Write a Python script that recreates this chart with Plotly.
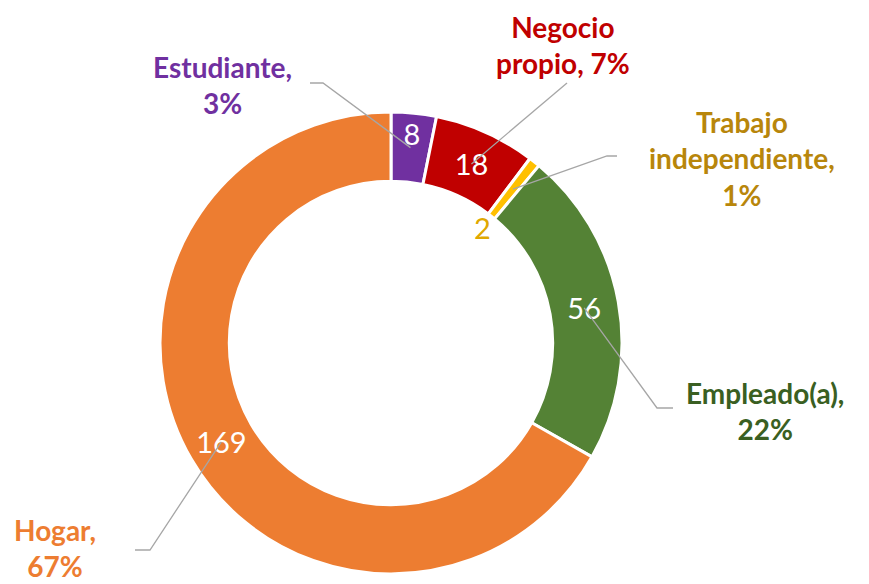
import math
import plotly.graph_objects as go

categories = ["Estudiante", "Negocio propio", "Trabajo independiente", "Empleado(a)", "Hogar"]
values = [8, 18, 2, 56, 169]
percent_labels = ["3%", "7%", "1%", "22%", "67%"]
slice_colors = ["#7030A0", "#C00000", "#FFC000", "#548235", "#ED7D31"]
label_colors = ["#7030A0", "#C00000", "#B8860B", "#3A5F22", "#ED7D31"]

OFF = 8  # page body margin
W, H = 869 - OFF, 584 - OFF
CX, CY, R_OUT = 391 - OFF, 343 - OFF, 231
HOLE = 0.70
R_MID = R_OUT * (1 + HOLE) / 2


def px(x, y):
    return x / W, 1 - y / H


def pg(x, y):
    # page pixel -> figure pixel
    return x - OFF, y - OFF


fig = go.Figure()
fig.add_trace(go.Pie(
    values=values,
    labels=categories,
    sort=False,
    direction="clockwise",
    rotation=0,
    hole=HOLE,
    marker=dict(colors=slice_colors, line=dict(color="white", width=3)),
    texttemplate="%{value}",
    textposition=["inside", "inside", "none", "inside", "inside"],
    insidetextorientation="horizontal",
    insidetextfont=dict(color="white", size=29, family="Lato"),
    showlegend=False,
    hoverinfo="label+value+percent",
    domain=dict(x=[(CX - R_OUT) / W, (CX + R_OUT) / W],
                y=[(H - CY - R_OUT) / H, (H - CY + R_OUT) / H]),
))

# slice mid-angles (clockwise from 12 o'clock) from the data
total = sum(values)
mids = []
cum = 0
for v in values:
    mids.append((cum + v / 2) / total * 2 * math.pi)
    cum += v

# outside category labels: (text, center px, leader start px, knee px or None)
label_layout = [
    ("Estudiante,<br>3%", (222, 85), (310, 83), (323, 83)),
    ("Negocio<br>propio, 7%", (563, 45), (567, 83), None),
    ("Trabajo<br>independiente,<br>1%", (742, 158), (617, 156), (607, 156)),
    ("Empleado(a),<br>22%", (765, 411), (673, 408), (657, 408)),
    ("Hogar,<br>67%", (55, 548), (135, 550), (150, 550)),
]

for i, (txt, tpos, start, knee) in enumerate(label_layout):
    ax, ay = px(*pg(*tpos))
    fig.add_annotation(x=ax, y=ay, xref="paper", yref="paper", text=f"<b>{txt}</b>",
                       showarrow=False, align="center", xanchor="center", yanchor="middle",
                       font=dict(family="Lato", size=28, color=label_colors[i]))
    ex = CX + R_MID * math.sin(mids[i])
    ey = CY - R_MID * math.cos(mids[i])
    pts = [pg(*start)] + ([pg(*knee)] if knee else []) + [(ex, ey)]
    path = "M " + " L ".join(f"{px(x, y)[0]:.5f},{px(x, y)[1]:.5f}" for x, y in pts)
    fig.add_shape(type="path", path=path, xref="paper", yref="paper",
                  line=dict(color="#A6A6A6", width=1.3))

# value label for the tiny slice, placed just inside the hole
i = 2
r_in = R_OUT * HOLE - 14
vx = CX + r_in * math.sin(mids[i])
vy = CY - r_in * math.cos(mids[i])
ax, ay = px(vx, vy)
fig.add_annotation(x=ax, y=ay, xref="paper", yref="paper", text=str(values[i]),
                   showarrow=False, xanchor="center", yanchor="middle",
                   font=dict(family="Lato", size=29, color="#E0A800"))

fig.update_layout(width=W, height=H, margin=dict(l=0, r=0, t=0, b=0),
                  paper_bgcolor="white", plot_bgcolor="white")
fig.write_html("out.html")
